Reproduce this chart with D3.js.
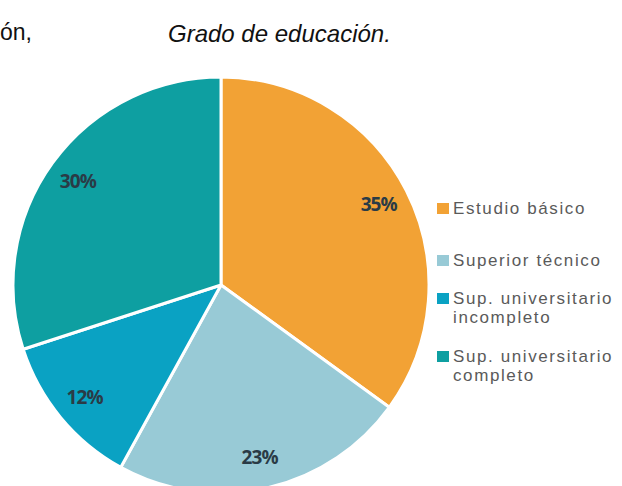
<!DOCTYPE html>
<html>
<head>
<meta charset="utf-8">
<script src="https://cdn.jsdelivr.net/npm/d3@7"></script>
<style>
  html, body { margin: 0; padding: 0; background: #ffffff; }
  svg { display: block; }
</style>
</head>
<body>
<svg id="chart" width="622" height="486"></svg>
<script>
// Education level distribution
const categories = ["Estudio básico", "Superior técnico", "Sup. universitario incompleto", "Sup. universitario completo"];
const legendLines = [["Estudio básico"], ["Superior técnico"], ["Sup. universitario", "incompleto"], ["Sup. universitario", "completo"]];
const values = [35, 23, 12, 30];
const colors = ["#F2A235", "#98CAD6", "#0AA2C3", "#0E9FA1"];

const svg = d3.select("#chart");

// Headline fragments
svg.append("text")
  .attr("x", 0).attr("y", 40)
  .attr("font-family", "Liberation Sans, Arial, sans-serif")
  .attr("font-size", 23)
  .attr("fill", "#111")
  .text("ón,");

svg.append("text")
  .attr("x", 168).attr("y", 42)
  .attr("font-family", "Liberation Sans, Arial, sans-serif")
  .attr("font-style", "italic")
  .attr("font-size", 24)
  .attr("fill", "#111")
  .text("Grado de educación.");

// Pie
const cx = 221, cy = 285, R = 208;
const color = d3.scaleOrdinal().domain(categories).range(colors);
const pie = d3.pie().sort(null).value(d => d.value);
const arcs = pie(categories.map((c, i) => ({ name: c, value: values[i] })));
const arc = d3.arc().innerRadius(0).outerRadius(R);
const labelArc = d3.arc().innerRadius(177).outerRadius(177);

const g = svg.append("g").attr("transform", `translate(${cx},${cy})`);
g.selectAll("path.slice")
  .data(arcs)
  .join("path")
  .attr("class", "slice")
  .attr("d", arc)
  .attr("fill", d => color(d.data.name))
  .attr("stroke", "#ffffff")
  .attr("stroke-width", 3)
  .attr("stroke-linejoin", "round");

g.selectAll("text.pct")
  .data(arcs)
  .join("text")
  .attr("class", "pct")
  .attr("transform", d => `translate(${labelArc.centroid(d)})`)
  .attr("text-anchor", "middle")
  .attr("dy", "0.35em")
  .attr("font-family", "Open Sans, sans-serif")
  .attr("font-weight", "bold")
  .attr("font-size", 19)
  .attr("letter-spacing", -0.9)
  .attr("fill", "#2A3B46")
  .text(d => d.data.value + "%");

// Legend
const legendTop = [203, 255, 293, 351];
const legend = svg.append("g");
categories.forEach((c, i) => {
  legend.append("rect")
    .attr("x", 437).attr("y", legendTop[i])
    .attr("width", 12).attr("height", 11)
    .attr("fill", color(c));
  legendLines[i].forEach((line, j) => {
    legend.append("text")
      .attr("x", 453)
      .attr("y", legendTop[i] + 11 + j * 19)
      .attr("font-family", "Liberation Sans, Arial, sans-serif")
      .attr("font-size", 17)
      .attr("letter-spacing", 1.6)
      .attr("fill", "#5A5A5A")
      .text(line);
  });
});
</script>
</body>
</html>
